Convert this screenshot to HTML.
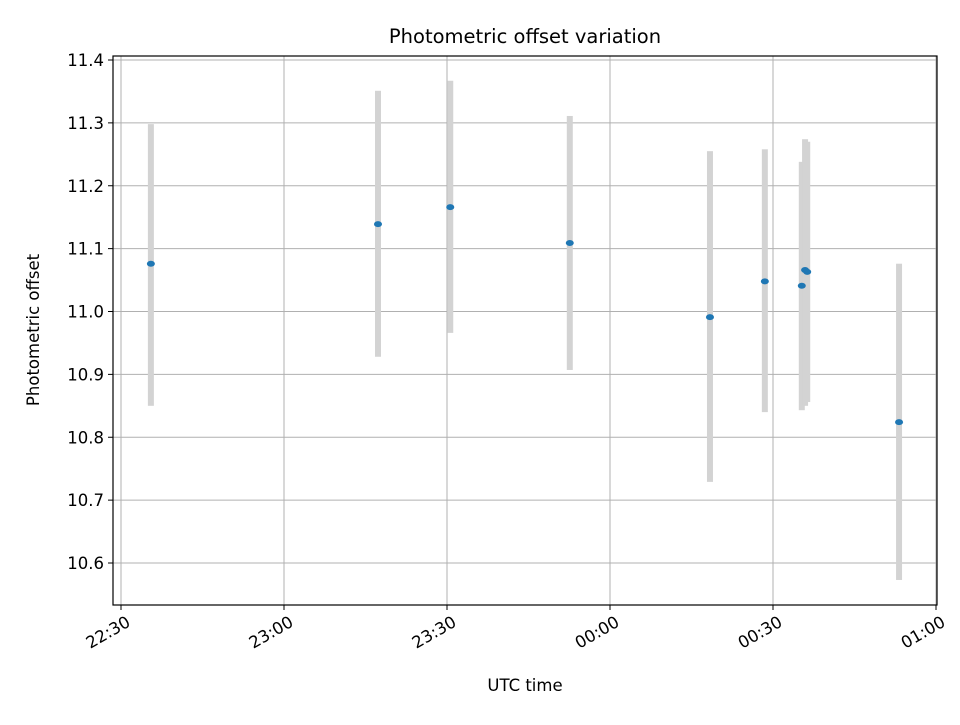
<!DOCTYPE html>
<html><head><meta charset="utf-8"><style>
body{margin:0;background:#fff;font-family:"Liberation Sans","DejaVu Sans",sans-serif}
svg text{font-family:"DejaVu Sans","Liberation Sans",sans-serif}
</style></head><body>
<svg id="chart" width="960" height="720" xmlns="http://www.w3.org/2000/svg">
<rect width="960" height="720" fill="#fff"/>
<g id="grid"></g><g id="bars"></g><g id="pts"></g>
<rect x="113" y="56" width="824" height="549" fill="none" stroke="#000" stroke-width="1.2"/>
<g id="axes"></g>
<text x="525" y="43" font-size="19.5" text-anchor="middle">Photometric offset variation</text>
<text x="525" y="691" font-size="16.5" text-anchor="middle">UTC time</text>
<text transform="translate(39,330) rotate(-90)" font-size="16.5" text-anchor="middle">Photometric offset</text>
</svg>
<script>
// minutes after 22:30 UTC
const times=[5.5,47.3,60.6,82.6,108.4,118.5,125.3,125.9,126.3,143.2];
const offsets=[11.076,11.139,11.166,11.109,10.991,11.048,11.041,11.066,11.063,10.824];
const lows=[10.850,10.928,10.966,10.907,10.729,10.840,10.843,10.850,10.856,10.573];
const highs=[11.298,11.351,11.367,11.311,11.255,11.258,11.238,11.274,11.270,11.076];
const xTickMins=[0,30,60,90,120,150];
const xTickLabels=["22:30","23:00","23:30","00:00","00:30","01:00"];
const yTicks=[10.6,10.7,10.8,10.9,11.0,11.1,11.2,11.3,11.4];
const NS="http://www.w3.org/2000/svg";
const X=m=>121+m*163/30;
const Y=v=>60+(11.4-v)*628.75;
function mk(tag,parent,attrs){const e=document.createElementNS(NS,tag);for(const k in attrs)e.setAttribute(k,attrs[k]);document.getElementById(parent).appendChild(e);return e;}
xTickMins.forEach((m,i)=>{
 const x=X(m);
 const g=mk('line','grid',{x1:x,x2:x,y1:56,y2:605,stroke:'#b0b0b0','stroke-width':1});
 
 
 const t=mk('line','axes',{x1:x,x2:x,y1:605,y2:610,stroke:'#000'});
 
 
 const l=mk('text','axes',{x:x+4,y:627,'font-size':16.5,'text-anchor':'end',transform:`rotate(-30 ${x+4} 614)`});
 l.textContent=xTickLabels[i];
 
 
});
yTicks.forEach(v=>{
 const y=Y(v);
 const g=mk('line','grid',{x1:113,x2:937,y1:y,y2:y,stroke:'#b0b0b0','stroke-width':1});
 
 
 const t=mk('line','axes',{x1:108,x2:113,y1:y,y2:y,stroke:'#000'});
 
 
 const l=mk('text','axes',{x:104,y:y+6,'font-size':16.5,'text-anchor':'end'});
 l.textContent=v.toFixed(1);
 
 
});
times.forEach((m,i)=>{
 const x=X(m);
 const b=mk('rect','bars',{x:x-3,y:Y(highs[i]),width:6,height:Y(lows[i])-Y(highs[i]),fill:'#d3d3d3'});
 
 
 const p=mk('ellipse','pts',{cx:x,cy:Y(offsets[i]),rx:4,ry:3,fill:'#1f77b4'});
 
 
});
</script>
</body></html>
